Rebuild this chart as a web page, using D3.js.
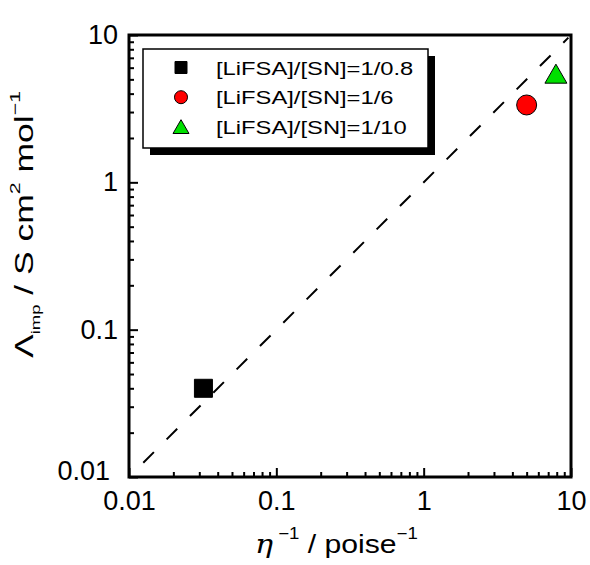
<!DOCTYPE html>
<html>
<head>
    <meta charset="utf-8">
    <title>conductivity-vs-fluidity</title>
    <style>
body { margin: 0; background: #fff; }
text { font-family: "Liberation Sans", Arial, sans-serif; fill: #000; }
.frame { fill: none; stroke: #000; stroke-width: 3; }
.axis path { stroke: #000; stroke-width: 3; }
.axis line { stroke: #000; stroke-width: 2; }
.axis text { font-size: 27px; font-family: "Liberation Sans", Arial, sans-serif; }
    </style>
</head>
<body>
<script src="https://cdn.jsdelivr.net/npm/d3@7"></script>
<script>
// data
var seriesNames = ["[LiFSA]/[SN]=1/0.8", "[LiFSA]/[SN]=1/6", "[LiFSA]/[SN]=1/10"];
var fluidity = [0.032, 5.0, 7.9];          // eta^-1 / poise^-1
var molarCond = [0.040, 3.35, 5.2];        // Lambda_imp / S cm2 mol-1
var majorTicks = [0.01, 0.1, 1, 10];
var tickLabels = ["0.01", "0.1", "1", "10"];
var refLine = [0.0125, 9.6];               // y = x guide

var markerFill = ["#000000", "#ff0000", "#00e000"];
var markerShape = [d3.symbolSquare, d3.symbolCircle, d3.symbolTriangle];

var totalWidth = 590, totalHeight = 565;
var margin = { top: 35, right: 19, bottom: 88, left: 129 };
var width = totalWidth - margin.left - margin.right,
    height = totalHeight - margin.top - margin.bottom;

var svg = d3.select("body").append("svg")
    .attr("width", totalWidth)
    .attr("height", totalHeight);

var g = svg.append("g")
    .attr("transform", "translate(" + margin.left + "," + margin.top + ")");

var x = d3.scaleLog().domain([0.01, 10]).range([0, width]);
var y = d3.scaleLog().domain([0.01, 10]).range([height, 0]);

// minor ticks 2..9 of each decade
var minorTicks = [];
[0.01, 0.1, 1].forEach(function (d) {
    for (var k = 2; k <= 9; k++) minorTicks.push(d * k);
});

function fmt(d) { return tickLabels[majorTicks.indexOf(d)]; }

// x axis
g.append("g").attr("class", "axis")
    .attr("transform", "translate(0," + height + ")")
    .call(d3.axisBottom(x).tickValues(minorTicks).tickFormat("").tickSizeInner(-5).tickSizeOuter(0));
g.append("g").attr("class", "axis")
    .attr("transform", "translate(0," + height + ")")
    .call(d3.axisBottom(x).tickValues(majorTicks).tickFormat(fmt).tickSizeInner(-9).tickSizeOuter(0).tickPadding(14));

// y axis
g.append("g").attr("class", "axis")
    .call(d3.axisLeft(y).tickValues(minorTicks).tickFormat("").tickSizeInner(-5).tickSizeOuter(0));
var yMajor = g.append("g").attr("class", "axis")
    .call(d3.axisLeft(y).tickValues(majorTicks).tickFormat(fmt).tickSizeInner(-9).tickSizeOuter(0).tickPadding(11));
// lowest y label sits a little up and left, clear of the x label
yMajor.selectAll("text").filter(function (d) { return d === 0.01; })
    .attr("x", -19).attr("dy", "0.1em");

g.selectAll(".axis .domain").remove();

// frame
g.append("rect").attr("class", "frame")
    .attr("x", 0).attr("y", 0).attr("width", width).attr("height", height);

// dashed guide line
g.append("line")
    .attr("x1", x(refLine[0])).attr("y1", y(refLine[0]))
    .attr("x2", x(refLine[1])).attr("y2", y(refLine[1]))
    .attr("stroke", "#000").attr("stroke-width", 2)
    .attr("stroke-dasharray", "15,18");

// data points
var sizes = [324, 314, 209];
fluidity.forEach(function (v, i) {
    g.append("path")
        .attr("d", d3.symbol().type(markerShape[i]).size(sizes[i])())
        .attr("transform", "translate(" + x(v) + "," + y(molarCond[i]) + ")")
        .attr("fill", markerFill[i])
        .attr("stroke", "#000").attr("stroke-width", 1);
});

// legend with drop shadow
var lg = svg.append("g").attr("transform", "translate(143,49)");
lg.append("rect").attr("x", 7).attr("y", 7).attr("width", 285).attr("height", 99).attr("fill", "#000");
lg.append("rect").attr("x", 0).attr("y", 0).attr("width", 285).attr("height", 99)
    .attr("fill", "#fff").attr("stroke", "#000").attr("stroke-width", 1.5);
var legSizes = [144, 133, 110];
seriesNames.forEach(function (name, i) {
    var row = lg.append("g").attr("transform", "translate(0," + (18.5 + i * 29.7) + ")");
    row.append("path")
        .attr("d", d3.symbol().type(markerShape[i]).size(legSizes[i])())
        .attr("transform", "translate(38," + (i === 2 ? 2 : 0) + ")")
        .attr("fill", markerFill[i])
        .attr("stroke", "#000").attr("stroke-width", 1);
    row.append("text")
        .attr("transform", "translate(73,7) scale(1.25,1)")
        .style("font-size", "19px")
        .text(name);
});

// x axis title
var xt = svg.append("text")
    .attr("transform", "translate(255,553) scale(1.16,1)")
    .style("font-size", "26px");
xt.append("tspan").style("font-family", "'DejaVu Serif', serif").style("font-style", "italic").text("\u03b7");
xt.append("tspan").attr("dy", -14).style("font-size", "16px").text(" \u22121");
xt.append("tspan").attr("dy", 14).text(" / poise");
xt.append("tspan").attr("dy", -14).style("font-size", "16px").text("\u22121");

// y axis title
var yt = svg.append("text")
    .attr("transform", "translate(33,358) rotate(-90) scale(1.42,1)")
    .style("font-size", "25px");
yt.append("tspan").text("\u039b");
yt.append("tspan").attr("dy", 7).style("font-size", "13px").text("imp");
yt.append("tspan").attr("dy", -7).text(" / S cm");
yt.append("tspan").attr("dy", -13).style("font-size", "15px").text("2");
yt.append("tspan").attr("dy", 13).text(" mol");
yt.append("tspan").attr("dy", -13).style("font-size", "15px").text("\u22121");
</script>
</body>
</html>
